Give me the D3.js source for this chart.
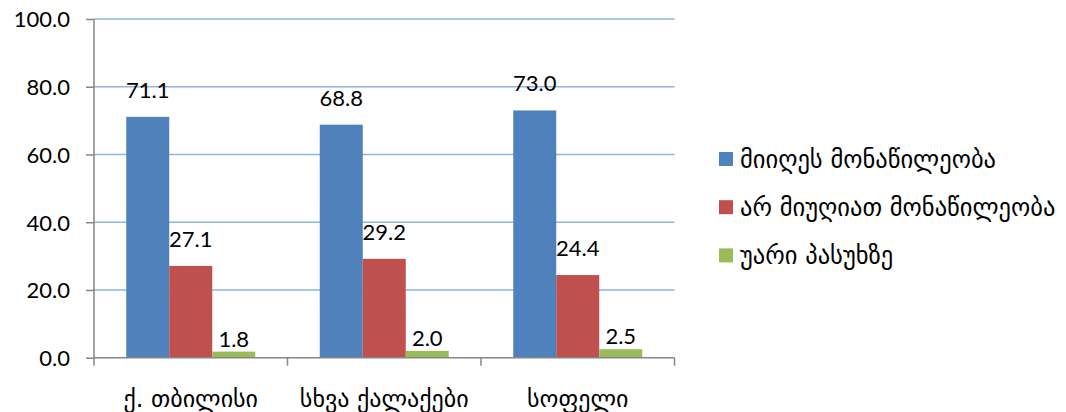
<!DOCTYPE html>
<html>
<head>
<meta charset="utf-8">
<script src="https://cdn.jsdelivr.net/npm/d3@7"></script>
<style>
 body { margin: 0; background: #fff; }
 text { font-family: Lato, "DejaVu Sans", sans-serif; fill: #000; }
 .geo { font-family: "DejaVu Sans", sans-serif; }
</style>
</head>
<body>
<script>
var categories = ["ქ. თბილისი", "სხვა ქალაქები", "სოფელი"];
var seriesNames = ["მიიღეს მონაწილეობა", "არ მიუღიათ მონაწილეობა", "უარი პასუხზე"];
var took = [71.1, 68.8, 73.0];
var notTook = [27.1, 29.2, 24.4];
var refused = [1.8, 2.0, 2.5];
var yTicks = [0, 20, 40, 60, 80, 100];

var colors = ["#4F81BD", "#C0504D", "#9BBB59"];
var labelGap = [19, 19, 5]; /*label baseline distance above bar top*/

var values = [took, notTook, refused];

var svg = d3.select("body").append("svg")
 .attr("width", 1066).attr("height", 412);

var x = d3.scaleBand().domain(categories).range([94, 674.5]);
var inner = d3.scaleBand().domain([0, 1, 2]).range([0, x.bandwidth()]).paddingInner(0).paddingOuter(0.75);
var y = d3.scaleLinear().domain([0, 100]).range([357.7, 19]);

/*gridlines*/
svg.selectAll("line.grid").data(yTicks.filter(function(d) { return d > 0; })).enter().append("line")
 .attr("class", "grid")
 .attr("x1", 94).attr("x2", 674.5)
 .attr("y1", function(d) { return y(d); }).attr("y2", function(d) { return y(d); })
 .attr("stroke", "#8EB4E3").attr("stroke-width", 1.5);

/*bars*/
for (var s = 0; s < 3; s++) {
 svg.append("g").selectAll("rect").data(values[s]).enter().append("rect")
  .attr("x", function(d, i) { return x(categories[i]) + inner(s); })
  .attr("y", function(d) { return y(d); })
  .attr("width", inner.bandwidth())
  .attr("height", function(d) { return y(0) - y(d); })
  .attr("fill", colors[s]);
}

/*axes*/
var yAxis = d3.axisLeft(y).tickValues(yTicks).tickSize(8).tickPadding(16)
 .tickFormat(function(d) { return d3.format(".1f")(d); });
var gy = svg.append("g").attr("transform", "translate(94,0)").call(yAxis);
gy.select(".domain").attr("stroke", "#868686").attr("stroke-width", 1.5).attr("d", "M0," + y(0) + "V" + y(100));
gy.selectAll(".tick line").attr("stroke", "#868686").attr("stroke-width", 1.5);
gy.selectAll(".tick text").attr("font-size", 22).attr("font-family", "Lato").attr("fill", "#000").attr("dy", "0.36em");

var gx = svg.append("g").attr("transform", "translate(0," + y(0) + ")");
gx.append("line").attr("x1", 94).attr("x2", 674.5).attr("stroke", "#868686").attr("stroke-width", 1.5);
gx.selectAll("line.tk").data(d3.range(categories.length + 1)).enter().append("line")
 .attr("class", "tk")
 .attr("x1", function(i) { return 94 + i * x.step(); })
 .attr("x2", function(i) { return 94 + i * x.step(); })
 .attr("y1", 0).attr("y2", 8)
 .attr("stroke", "#868686").attr("stroke-width", 1.5);
gx.selectAll("text").data(categories).enter().append("text")
 .attr("class", "geo")
 .attr("x", function(d) { return x(d) + x.bandwidth() / 2; })
 .attr("y", 49)
 .attr("text-anchor", "middle")
 .attr("font-size", 24)
 .text(function(d) { return d; });

/*value labels*/
for (var s = 0; s < 3; s++) {
 svg.append("g").selectAll("text").data(values[s]).enter().append("text")
  .attr("x", function(d, i) { return x(categories[i]) + inner(s) + inner.bandwidth() / 2; })
  .attr("y", function(d) { return y(d) - labelGap[s]; })
  .attr("text-anchor", "middle")
  .attr("font-size", 22)
  .text(function(d) { return d3.format(".1f")(d); });
}

/*legend*/
var legend = svg.append("g").attr("transform", "translate(719,152)");
var item = legend.selectAll("g").data(seriesNames).enter().append("g")
 .attr("transform", function(d, i) { return "translate(0," + (i * 48.2) + ")"; });
item.append("rect").attr("width", 14).attr("height", 14)
 .attr("fill", function(d, i) { return colors[i]; });
item.append("text").attr("class", "geo")
 .attr("x", 21).attr("y", 7).attr("dy", "0.35em")
 .attr("font-size", 24.5)
 .text(function(d) { return d; });
</script>
</body>
</html>
